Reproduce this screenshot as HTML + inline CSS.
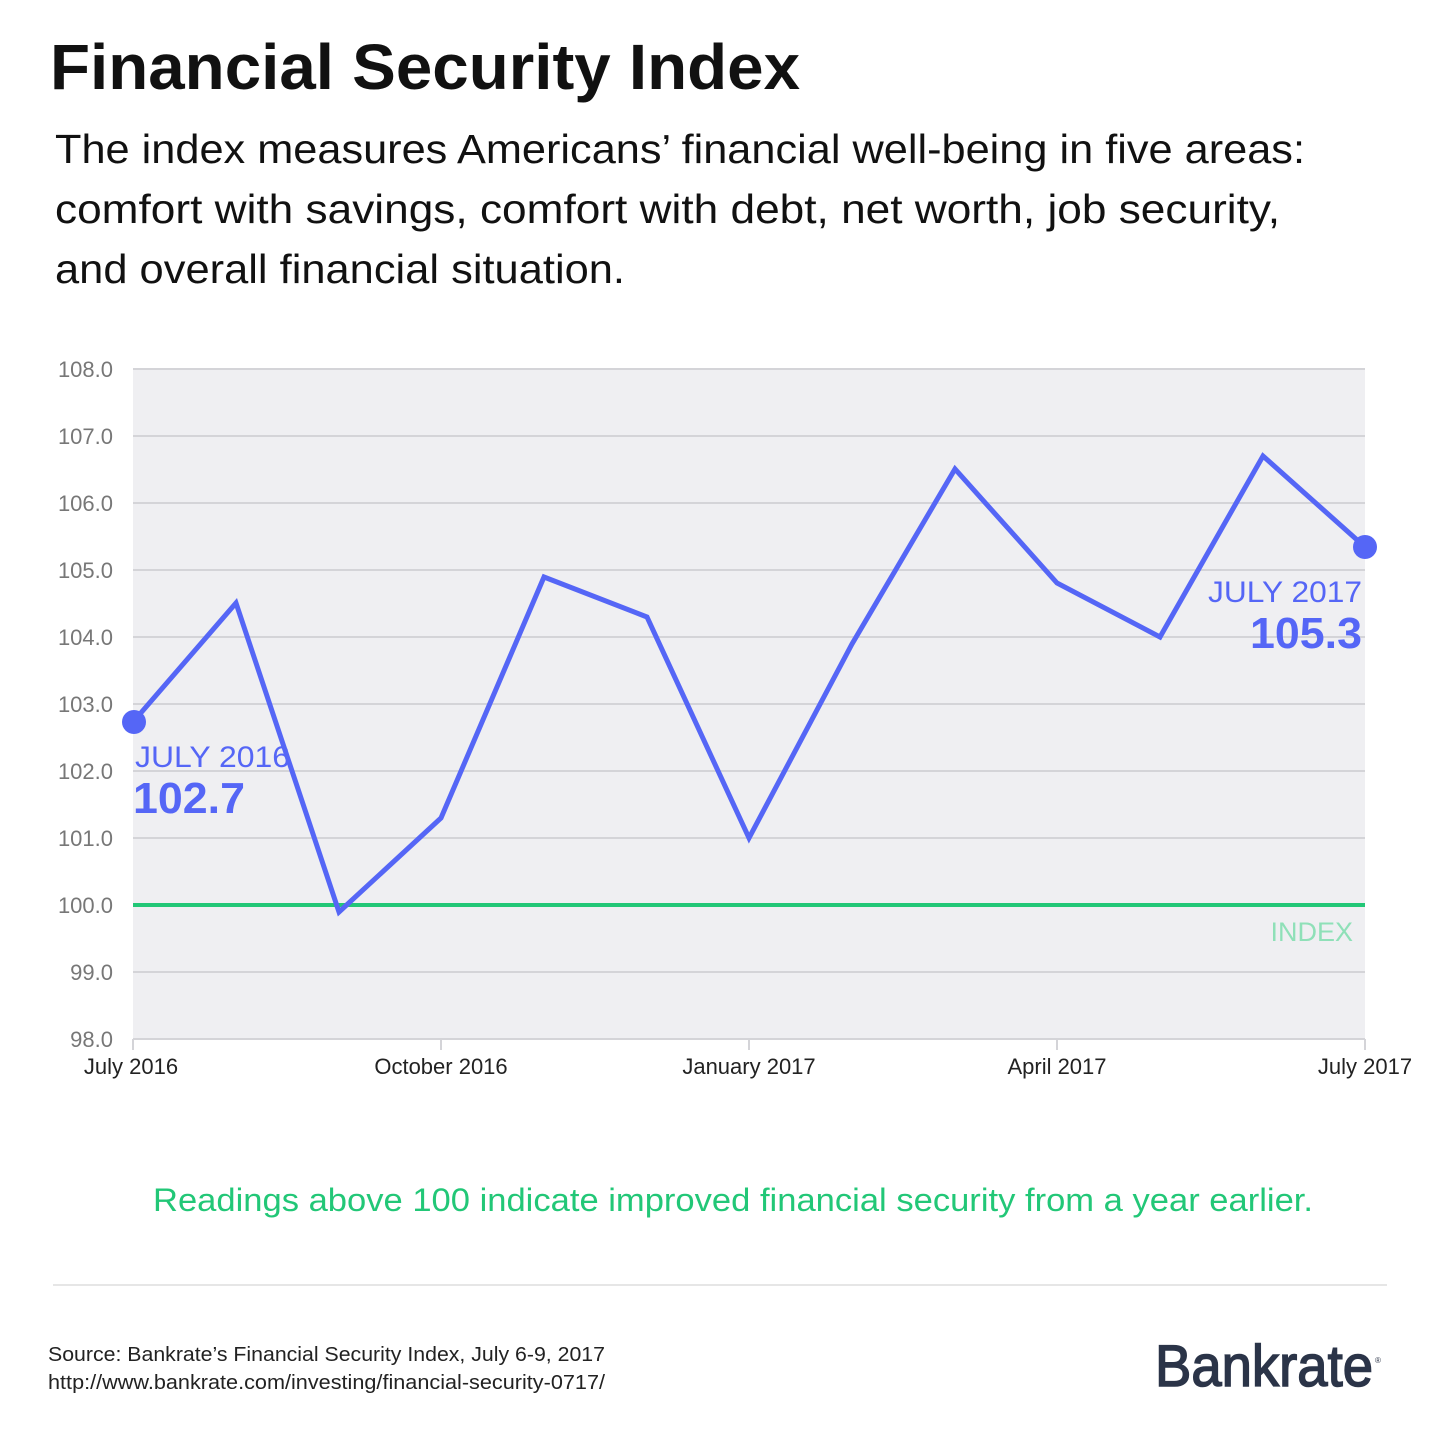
<!DOCTYPE html>
<html><head><meta charset="utf-8"><style>
html,body{margin:0;padding:0;background:#fff;width:1440px;height:1440px;overflow:hidden}
svg{display:block}
</style></head><body>
<svg width="1440" height="1440" viewBox="0 0 1440 1440" xmlns="http://www.w3.org/2000/svg" font-family="Liberation Sans, sans-serif">
<text x="50" y="89" font-size="64" font-weight="bold" fill="#111" textLength="750" lengthAdjust="spacingAndGlyphs">Financial Security Index</text>
<text x="55" y="163" font-size="41" fill="#111" textLength="1250" lengthAdjust="spacingAndGlyphs">The index measures Americans’ financial well-being in five areas:</text>
<text x="55" y="223" font-size="41" fill="#111" textLength="1225" lengthAdjust="spacingAndGlyphs">comfort with savings, comfort with debt, net worth, job security,</text>
<text x="55" y="283" font-size="41" fill="#111" textLength="570" lengthAdjust="spacingAndGlyphs">and overall financial situation.</text>
<rect x="133" y="369" width="1232" height="670" fill="#efeff2"/>
<g stroke="#d4d4d8" stroke-width="2">
<line x1="133" y1="369" x2="1365" y2="369"/><line x1="133" y1="436" x2="1365" y2="436"/>
<line x1="133" y1="503" x2="1365" y2="503"/><line x1="133" y1="570" x2="1365" y2="570"/>
<line x1="133" y1="637" x2="1365" y2="637"/><line x1="133" y1="704" x2="1365" y2="704"/>
<line x1="133" y1="771" x2="1365" y2="771"/><line x1="133" y1="838" x2="1365" y2="838"/>
<line x1="133" y1="972" x2="1365" y2="972"/><line x1="133" y1="1039" x2="1365" y2="1039"/>
<line x1="133" y1="1039" x2="133" y2="1050"/><line x1="441" y1="1039" x2="441" y2="1050"/>
<line x1="749" y1="1039" x2="749" y2="1050"/><line x1="1057" y1="1039" x2="1057" y2="1050"/>
<line x1="1365" y1="1039" x2="1365" y2="1050"/>
</g>
<g font-size="22" fill="#777" text-anchor="end">
<text x="113" y="377">108.0</text><text x="113" y="444">107.0</text><text x="113" y="511">106.0</text>
<text x="113" y="578">105.0</text><text x="113" y="645">104.0</text><text x="113" y="712">103.0</text>
<text x="113" y="779">102.0</text><text x="113" y="846">101.0</text><text x="113" y="913">100.0</text>
<text x="113" y="980">99.0</text><text x="113" y="1047">98.0</text>
</g>
<g font-size="22" fill="#222" text-anchor="middle">
<text x="131" y="1074">July 2016</text><text x="441" y="1074">October 2016</text>
<text x="749" y="1074">January 2017</text><text x="1057" y="1074">April 2017</text>
<text x="1365" y="1074">July 2017</text>
</g>
<line x1="133" y1="905" x2="1365" y2="905" stroke="#22c777" stroke-width="4"/>
<text x="1353" y="941" font-size="27" fill="#8fe0b8" text-anchor="end">INDEX</text>
<polyline fill="none" stroke="#5566f6" stroke-width="5" stroke-linejoin="miter" points="133,722 236,603 339,912 441,818 544,577 647,617 749,838 852,644 955,469 1057,583 1160,637 1263,456 1365,547"/>
<circle cx="134" cy="722" r="12" fill="#5566f6"/>
<circle cx="1365" cy="547" r="12" fill="#5566f6"/>
<text x="135" y="767" font-size="30" fill="#5566f6" textLength="155" lengthAdjust="spacingAndGlyphs">JULY 2016</text>
<text x="133" y="813" font-size="44" font-weight="bold" fill="#5566f6" textLength="112" lengthAdjust="spacingAndGlyphs">102.7</text>
<text x="1208" y="602" font-size="30" fill="#5566f6" textLength="154" lengthAdjust="spacingAndGlyphs">JULY 2017</text>
<text x="1250" y="648" font-size="44" font-weight="bold" fill="#5566f6" textLength="112" lengthAdjust="spacingAndGlyphs">105.3</text>
<text x="153" y="1211" font-size="32" fill="#22c777" textLength="1160" lengthAdjust="spacingAndGlyphs">Readings above 100 indicate improved financial security from a year earlier.</text>
<line x1="53" y1="1285" x2="1387" y2="1285" stroke="#e6e6e6" stroke-width="2"/>
<text x="48" y="1361" font-size="20" fill="#222" textLength="557" lengthAdjust="spacingAndGlyphs">Source: Bankrate’s Financial Security Index, July 6-9, 2017</text>
<text x="48" y="1389" font-size="20" fill="#222" textLength="557" lengthAdjust="spacingAndGlyphs">http://www.bankrate.com/investing/financial-security-0717/</text>
<text x="1155" y="1386" font-size="58" fill="#2b3448" textLength="218" lengthAdjust="spacingAndGlyphs" stroke="#2b3448" stroke-width="1.5">Bankrate</text>
<text x="1375" y="1363" font-size="8" fill="#2b3448">®</text>
</svg>
</body></html>
